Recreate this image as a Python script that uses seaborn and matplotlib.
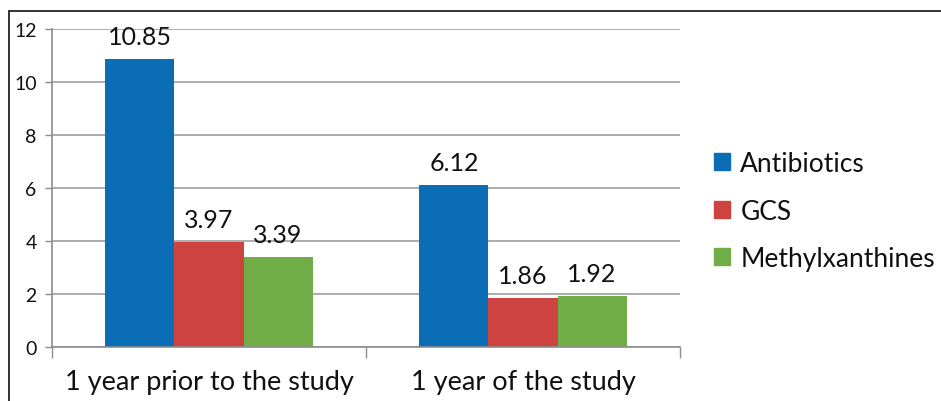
import matplotlib
matplotlib.use("Agg")
import matplotlib.pyplot as plt
from matplotlib.lines import Line2D
import seaborn as sns
import pandas as pd

# Values per period and drug group
periods = ["1 year prior to the study", "1 year of the study"]
drugs = ["Antibiotics", "GCS", "Methylxanthines"]
antibiotics = [10.85, 6.12]
gcs = [3.97, 1.86]
methylxanthines = [3.39, 1.92]
colors = ["#0b6db5", "#cc4340", "#71ad47"]

df = pd.DataFrame({
    "period": periods * 3,
    "drug": [d for d in drugs for _ in periods],
    "value": antibiotics + gcs + methylxanthines,
})

sns.set_theme(style="white")
plt.rcParams["font.family"] = ["Lato", "DejaVu Sans"]

fig = plt.figure(figsize=(9.41, 4.02), dpi=100)
ax = fig.add_axes([52 / 941, 1 - 348 / 402, (680 - 52) / 941, (348 - 30) / 402])

sns.barplot(data=df, x="period", y="value", hue="drug", order=periods,
            hue_order=drugs, palette=colors, width=0.66, saturation=1,
            linewidth=0, ax=ax)

ax.set_xlim(-0.5, 1.5)
ax.set_ylim(0, 12)
ax.set_yticks(range(0, 13, 2))
ax.set_yticklabels([str(v) for v in range(0, 13, 2)], fontsize=14, color="#111111")
ax.yaxis.grid(True, color="#a6a6a6", linewidth=1.3)
ax.set_axisbelow(True)
ax.set_xlabel("")
ax.set_ylabel("")

for c in ax.containers:
    ax.bar_label(c, labels=[f"{v:.2f}" for v in c.datavalues], padding=8,
                 fontsize=18, color="#111111")

for side in ("top", "right"):
    ax.spines[side].set_visible(False)
for side in ("left", "bottom"):
    ax.spines[side].set_color("#8c8c8c")
    ax.spines[side].set_linewidth(1.2)

ax.tick_params(axis="y", which="major", left=True, length=5, width=1,
               color="#8c8c8c", pad=6)
ax.set_xticks([0, 1])
ax.set_xticklabels(periods, fontsize=19.5, color="#111111")
ax.tick_params(axis="x", which="major", length=0, pad=16)
ax.set_xticks([-0.5, 0.5, 1.5], minor=True)
ax.tick_params(axis="x", which="minor", bottom=True, length=8, width=1,
               color="#8c8c8c")

handles = [plt.Rectangle((0, 0), 1, 1, color=c) for c in colors]
ax.legend(handles, drugs, loc="center left", bbox_to_anchor=(714 / 941, 1 - 212 / 402),
          bbox_transform=fig.transFigure, frameon=False, fontsize=19,
          handlelength=0.6, handleheight=0.6, handletextpad=0.4,
          labelspacing=0.85, borderaxespad=0, borderpad=0,
          labelcolor="#111111")

# outer frame lines along the top and left edges
fig.add_artist(Line2D([9 / 941, 1], [1 - 12 / 402, 1 - 12 / 402],
                      transform=fig.transFigure, color="#222222", linewidth=1.3))
fig.add_artist(Line2D([9 / 941, 9 / 941], [0, 1 - 12 / 402],
                      transform=fig.transFigure, color="#222222", linewidth=1.3))

fig.savefig("out.png", dpi=100)
